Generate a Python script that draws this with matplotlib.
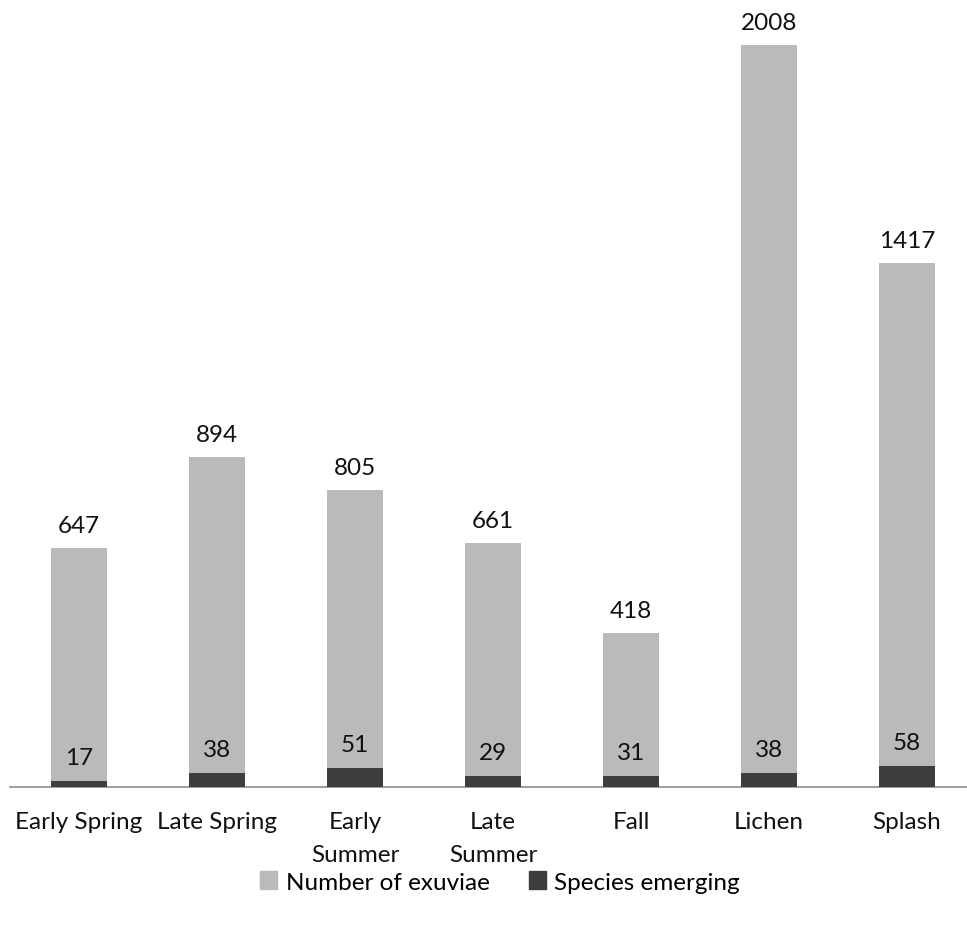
import matplotlib.pyplot as plt
from matplotlib.patches import Patch
import numpy as np

plt.rcParams["font.family"] = ["Lato", "DejaVu Sans"]

CATEGORIES = ["Early Spring", "Late Spring", "Early\nSummer", "Late\nSummer",
              "Fall", "Lichen", "Splash"]
EXUVIAE = [647, 894, 805, 661, 418, 2008, 1417]
SPECIES = [17, 38, 51, 29, 31, 38, 58]

LIGHT = "#bababa"
DARK = "#3d3d3d"
FS = 17.5

fig = plt.figure(figsize=(9.67, 9.28), dpi=100)
# axes spans the slot grid; right edge runs a little past the figure
ax = fig.add_axes([10 / 967, 1 - 788 / 928, 966 / 967, 776 / 928])

x = np.arange(len(CATEGORIES))
ax.bar(x, EXUVIAE, width=0.4, color=LIGHT, zorder=2)
ax.bar(x, SPECIES, width=0.4, color=DARK, zorder=3)

for xi, v in zip(x, EXUVIAE):
    ax.annotate(str(v), (xi, v), xytext=(0, 12), textcoords="offset pixels",
                ha="center", va="bottom", fontsize=FS, color="#111111")
for xi, v in zip(x, SPECIES):
    ax.annotate(str(v), (xi, v), xytext=(0, 13), textcoords="offset pixels",
                ha="center", va="bottom", fontsize=FS, color="#111111")

ax.set_xlim(-0.5, len(CATEGORIES) - 0.5)
ax.set_ylim(0, 2100)
ax.set_xticks(x)
ax.set_xticklabels(CATEGORIES, fontsize=FS, color="#111111", linespacing=1.75)
ax.tick_params(axis="x", length=0, pad=17)
ax.set_yticks([])
for side in ("top", "right", "left"):
    ax.spines[side].set_visible(False)
ax.spines["bottom"].set_color("#8c8c8c")
ax.spines["bottom"].set_linewidth(1.2)

handles = [Patch(color=LIGHT, label="Number of exuviae"),
           Patch(color=DARK, label="Species emerging")]
fig.legend(handles=handles, loc="center", bbox_to_anchor=(500 / 967, 1 - 883 / 928),
           ncol=2, frameon=False, fontsize=FS, handlelength=0.7, handleheight=0.7,
           handletextpad=0.35, columnspacing=1.6)

fig.savefig("out.png", dpi=100)
